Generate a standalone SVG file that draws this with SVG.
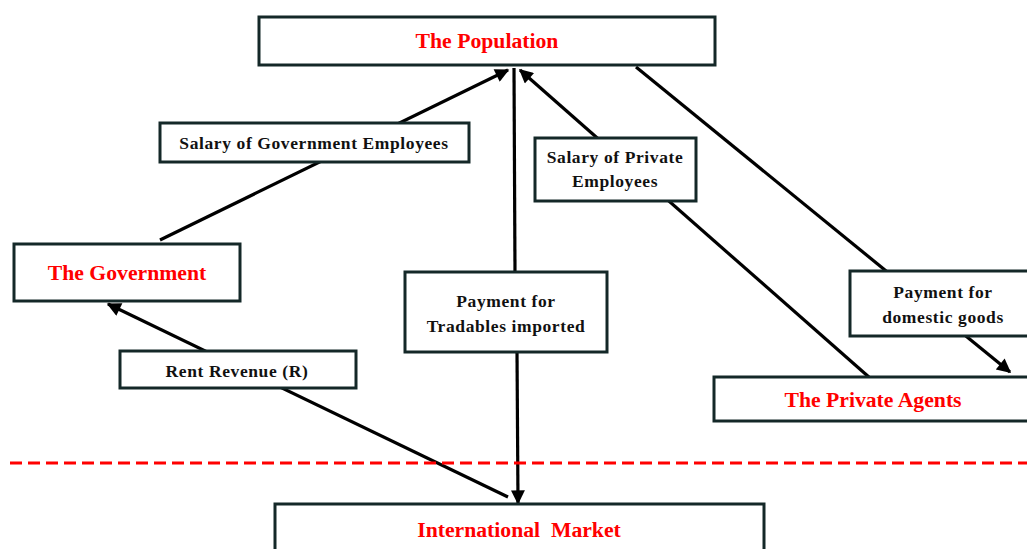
<svg xmlns="http://www.w3.org/2000/svg" width="1027" height="549" viewBox="0 0 1027 549">
<style>
.box{fill:#fff;stroke:#142828;stroke-width:3}
.node{font-family:"Liberation Serif","Times New Roman",serif;font-weight:bold;font-size:21.7px;fill:#ff0000;text-anchor:middle;dominant-baseline:central}
.lbl{font-family:"Liberation Serif","Times New Roman",serif;font-weight:bold;font-size:17.5px;letter-spacing:0.6px;fill:#111;text-anchor:middle;dominant-baseline:central}
.flow{stroke:#000;stroke-width:3.2;fill:none;marker-end:url(#ah)}
.plain{stroke:#000;stroke-width:3.2;fill:none}
</style>
<defs>
<marker id="ah" viewBox="0 0 10 10" refX="9" refY="5" markerWidth="16" markerHeight="14" markerUnits="userSpaceOnUse" orient="auto">
<path d="M0,0 L10,5 L0,10 Z" fill="#000"/>
</marker>
</defs>
<rect width="1027" height="549" fill="#fff"/>
<g id="connectors">
<line class="flow" x1="160" y1="240" x2="508" y2="70"/>
<line class="flow" x1="870" y1="378" x2="520" y2="70"/>
<line class="plain" x1="514" y1="68" x2="515" y2="273"/>
<line class="flow" x1="517" y1="352" x2="518" y2="503"/>
<line class="flow" x1="636" y1="67" x2="1010" y2="372"/>
<line class="flow" x1="508" y1="497" x2="108" y2="304"/>
<line x1="10" y1="463" x2="1027" y2="463" stroke="#ff0000" stroke-width="3" stroke-dasharray="12,6"/>
</g>
<g id="population"><rect class="box" x="259" y="17" width="456" height="48"/><text class="node" x="487" y="41">The Population</text></g>
<g id="government"><rect class="box" x="14" y="244" width="226" height="57"/><text class="node" x="127" y="273">The Government</text></g>
<g id="private-agents"><rect class="box" x="714" y="377" width="320" height="44"/><text class="node" x="873" y="400">The Private Agents</text></g>
<g id="international-market"><rect class="box" x="275" y="504" width="489" height="60"/><text class="node" x="519" y="530" xml:space="preserve" style="white-space:pre">International  Market</text></g>
<g id="label-gov-salary"><rect class="box" x="160" y="123" width="309" height="39"/><text class="lbl" x="314" y="143">Salary of Government Employees</text></g>
<g id="label-private-salary"><rect class="box" x="535" y="138" width="161" height="63"/><text class="lbl" x="615" y="157">Salary of Private</text><text class="lbl" x="615" y="181">Employees</text></g>
<g id="label-tradables"><rect class="box" x="405" y="272" width="202" height="80"/><text class="lbl" x="506" y="301">Payment for</text><text class="lbl" x="506" y="326">Tradables imported</text></g>
<g id="label-domestic"><rect class="box" x="850" y="271" width="190" height="65"/><text class="lbl" x="943" y="292">Payment for</text><text class="lbl" x="943" y="317">domestic goods</text></g>
<g id="label-rent"><rect class="box" x="120" y="351" width="236" height="37"/><text class="lbl" x="237" y="371">Rent Revenue (R)</text></g>
</svg>
